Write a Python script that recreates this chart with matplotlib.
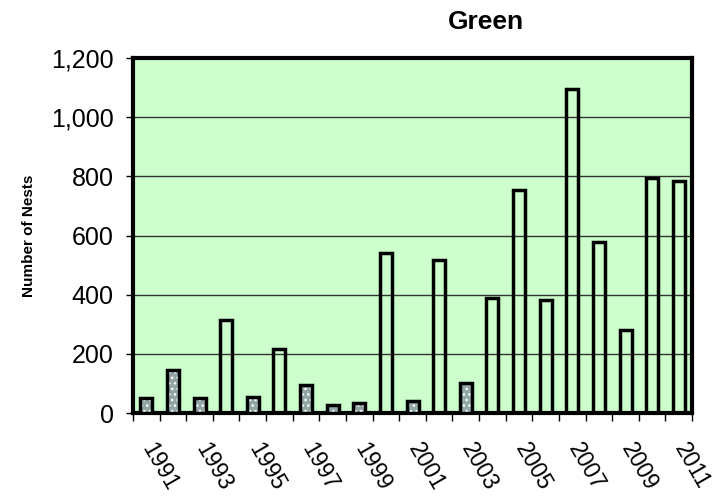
import numpy as np
import matplotlib.pyplot as plt
from matplotlib.ticker import FuncFormatter
from matplotlib.transforms import ScaledTranslation

plt.rcParams['font.family'] = ['Liberation Sans', 'DejaVu Sans']

# Datos
years = list(range(1991, 2012))
nests = [50, 145, 50, 315, 55, 217, 95, 28, 35, 540, 42,
         518, 100, 390, 755, 382, 1095, 578, 282, 795, 785]
# barras con patron punteado (True) o huecas (False)
patterned = [True, True, True, False, True, False, True, True, True, False, True,
             False, True, False, False, False, False, False, False, False, False]

fig = plt.figure(figsize=(7.15, 4.97), dpi=100)
ax = fig.add_axes([0.186, 0.169, 0.782, 0.714])
ax.set_facecolor('#ccffcc')

x = np.arange(len(years))
w = 0.45
for xi, v, p in zip(x, nests, patterned):
    if p:
        ax.bar(xi, v, width=w, color='#93a7a7', edgecolor='white', hatch='...',
               linewidth=0, zorder=3)
    ax.bar(xi, v, width=w, fill=False, edgecolor='black', linewidth=2.5, zorder=4)

ax.set_xlim(-0.5, len(years) - 0.5)
ax.set_ylim(0, 1200)
ax.set_yticks(range(0, 1201, 200))
ax.yaxis.set_major_formatter(FuncFormatter(lambda v, pos: f'{int(v):,}'))
ax.grid(axis='y', color='#333333', linewidth=1, zorder=1)
ax.set_axisbelow(True)

# marcas en los limites de cada categoria, etiquetas en anos impares
ax.set_xticks(np.arange(-0.5, len(years)), minor=True)
ax.set_xticks(x[::2])
ax.set_xticklabels([str(y) for y in years[::2]], rotation=-60, ha='left',
                   va='center', rotation_mode='anchor')
ax.tick_params(axis='x', which='major', length=0, pad=18, labelsize=16.5)
ax.tick_params(axis='x', which='minor', length=6, width=1, direction='out')
ax.tick_params(axis='y', length=5, width=1, direction='out', labelsize=18, pad=9)
off = ScaledTranslation(0.01, -0.07, fig.dpi_scale_trans)
for lab in ax.get_xticklabels():
    lab.set_transform(lab.get_transform() + off)

for s in ax.spines.values():
    s.set_linewidth(3)
    s.set_color('black')

ax.set_ylabel('Number of Nests', fontsize=11, fontweight='bold', labelpad=11)
fig.text(0.68, 0.955, 'Green', fontsize=19, fontweight='bold', ha='center', va='center')

plt.savefig('out.png', dpi=100)
